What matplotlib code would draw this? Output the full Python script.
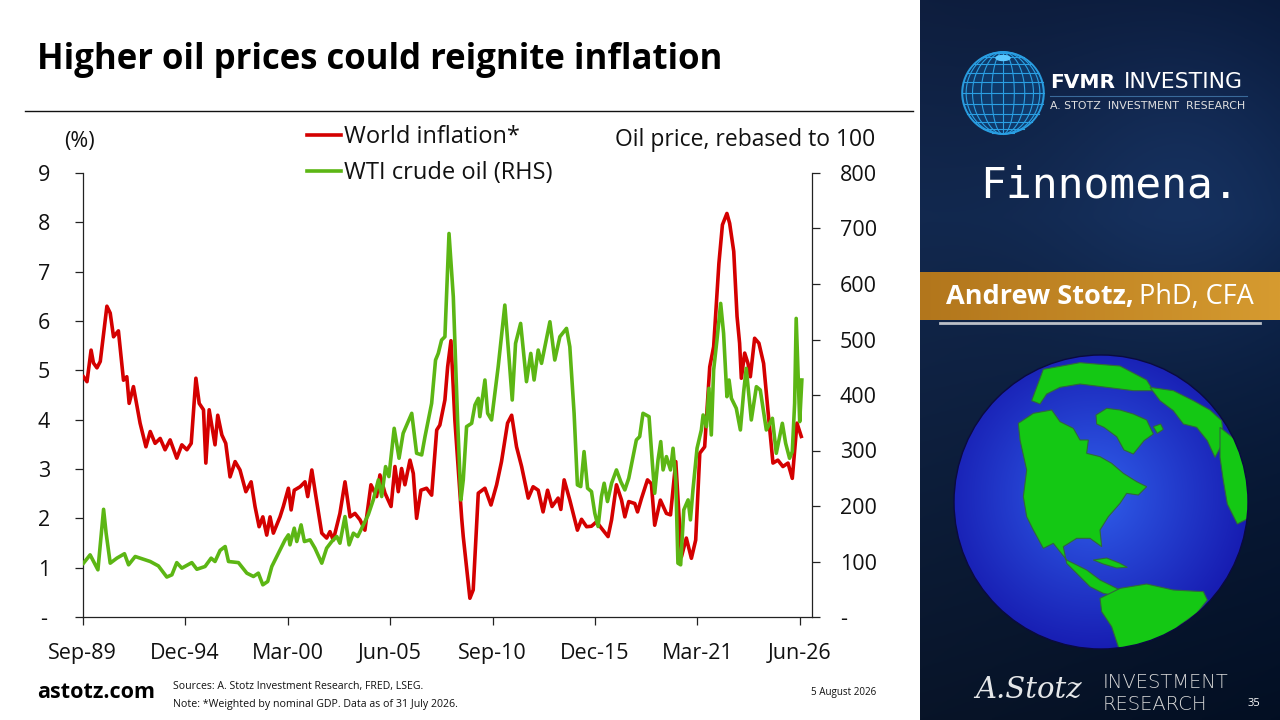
import numpy as np
import matplotlib
matplotlib.use("Agg")
import matplotlib.pyplot as plt
from matplotlib.lines import Line2D
from matplotlib.patches import Circle, Polygon, Ellipse

# ---------------- data ----------------
infl_t = [1989.71, 1989.89, 1990.10, 1990.22, 1990.40, 1990.57, 1990.91, 1991.08, 1991.25, 1991.50,
          1991.76, 1991.93, 1992.05, 1992.27, 1992.61, 1992.91, 1993.13, 1993.38, 1993.64, 1993.89,
          1994.15, 1994.49, 1994.75, 1995.01, 1995.23, 1995.47, 1995.64, 1995.86, 1995.98, 1996.15,
          1996.45, 1996.59, 1996.80, 1997.00, 1997.22, 1997.48, 1997.73, 1998.03, 1998.30, 1998.50,
          1998.71, 1998.90, 1999.10, 1999.27, 1999.44, 1999.78, 1999.95, 2000.21, 2000.35, 2000.51,
          2000.81, 2001.06, 2001.20, 2001.41, 2001.61, 2001.92, 2002.17, 2002.34, 2002.51, 2002.85,
          2003.11, 2003.37, 2003.62, 2003.88, 2004.13, 2004.44, 2004.73, 2004.90, 2005.16, 2005.47,
          2005.67, 2005.84, 2006.01, 2006.18, 2006.44, 2006.61, 2006.78, 2007.00, 2007.29, 2007.55,
          2007.81, 2007.97, 2008.23, 2008.37, 2008.54, 2008.74, 2009.09, 2009.17, 2009.51, 2009.68,
          2009.94, 2010.28, 2010.59, 2010.88, 2011.13, 2011.44, 2011.65, 2011.90, 2012.16, 2012.50,
          2012.75, 2013.01, 2013.26, 2013.49, 2013.72, 2014.03, 2014.17, 2014.34, 2014.63, 2015.02,
          2015.23, 2015.49, 2015.74, 2016.00, 2016.25, 2016.59, 2016.77, 2017.02, 2017.28, 2017.45,
          2017.65, 2017.96, 2018.10, 2018.30, 2018.61, 2018.81, 2018.98, 2019.27, 2019.58, 2019.79,
          2020.06, 2020.35, 2020.60, 2020.86, 2021.08, 2021.29, 2021.54, 2021.80, 2022.00, 2022.27,
          2022.45, 2022.68, 2022.82, 2023.03, 2023.20, 2023.33, 2023.42, 2023.59, 2023.76, 2023.88,
          2024.10, 2024.32, 2024.56, 2024.78, 2025.04, 2025.29, 2025.55, 2025.81, 2026.03, 2026.27,
          2026.49]
world_inflation = [4.87, 4.77, 5.41, 5.15, 5.05, 5.18, 6.30, 6.16, 5.68, 5.80,
                   4.80, 4.87, 4.33, 4.67, 3.93, 3.45, 3.76, 3.52, 3.62, 3.39,
                   3.59, 3.22, 3.49, 3.39, 3.52, 4.84, 4.33, 4.20, 3.12, 4.20,
                   3.49, 4.09, 3.69, 3.52, 2.84, 3.15, 2.98, 2.54, 2.74, 2.24,
                   1.83, 2.03, 1.66, 2.03, 1.70, 2.03, 2.24, 2.61, 2.17, 2.57,
                   2.64, 2.74, 2.44, 2.98, 2.47, 1.70, 1.60, 1.73, 1.56, 2.10,
                   2.74, 2.03, 2.10, 1.97, 1.76, 2.68, 2.44, 2.88, 2.51, 2.24,
                   3.05, 2.54, 3.01, 2.68, 3.18, 2.91, 2.00, 2.57, 2.61, 2.47,
                   3.79, 3.89, 4.40, 5.07, 5.60, 3.99, 2.00, 1.63, 0.38, 0.55,
                   2.51, 2.61, 2.27, 2.68, 3.15, 3.93, 4.09, 3.45, 3.05, 2.41,
                   2.64, 2.57, 2.13, 2.57, 2.24, 2.41, 2.18, 2.78, 2.37, 1.76,
                   1.98, 1.83, 1.84, 1.93, 1.80, 1.63, 1.97, 2.68, 2.37, 2.03,
                   2.34, 2.30, 2.13, 2.40, 2.78, 2.70, 1.86, 2.37, 2.10, 2.07,
                   3.15, 1.22, 1.60, 1.19, 1.56, 3.32, 3.45, 5.07, 5.48, 7.17,
                   7.95, 8.18, 7.98, 7.41, 6.09, 5.55, 4.84, 5.35, 5.14, 4.87,
                   5.65, 5.55, 5.14, 4.20, 3.12, 3.18, 3.05, 3.12, 2.81, 3.93,
                   3.66]

oil_t = [1989.71, 1990.05, 1990.45, 1990.74, 1990.87, 1991.08, 1991.42, 1991.81, 1992.02, 1992.36,
         1992.78, 1993.13, 1993.55, 1993.98, 1994.24, 1994.49, 1994.75, 1995.26, 1995.52, 1995.94,
         1996.25, 1996.45, 1996.71, 1996.97, 1997.14, 1997.65, 1998.08, 1998.42, 1998.67, 1998.90,
         1999.15, 1999.36, 1999.53, 1999.78, 2000.04, 2000.21, 2000.29, 2000.51, 2000.64, 2000.86,
         2001.03, 2001.32, 2001.57, 2001.92, 2002.17, 2002.43, 2002.69, 2002.85, 2003.11, 2003.32,
         2003.54, 2003.76, 2004.05, 2004.30, 2004.56, 2004.82, 2004.99, 2005.19, 2005.36, 2005.63,
         2005.88, 2006.09, 2006.53, 2006.78, 2007.04, 2007.21, 2007.55, 2007.75, 2007.89, 2008.06,
         2008.23, 2008.44, 2008.66, 2008.88, 2009.05, 2009.17, 2009.34, 2009.60, 2009.77, 2009.94,
         2010.02, 2010.28, 2010.42, 2010.62, 2010.79, 2010.96, 2011.30, 2011.51, 2011.68, 2011.85,
         2012.11, 2012.41, 2012.63, 2012.80, 2013.01, 2013.18, 2013.61, 2013.86, 2014.12, 2014.46,
         2014.63, 2014.85, 2015.02, 2015.19, 2015.36, 2015.54, 2015.74, 2015.91, 2016.08, 2016.25,
         2016.39, 2016.56, 2016.77, 2017.02, 2017.24, 2017.45, 2017.65, 2017.87, 2018.04, 2018.21,
         2018.38, 2018.69, 2018.86, 2018.98, 2019.15, 2019.29, 2019.41, 2019.58, 2019.79, 2019.92,
         2020.06, 2020.17, 2020.31, 2020.47, 2020.69, 2020.81, 2020.94, 2021.15, 2021.37, 2021.46,
         2021.63, 2021.76, 2021.88, 2022.00, 2022.17, 2022.36, 2022.51, 2022.68, 2022.79, 2022.91,
         2023.16, 2023.37, 2023.54, 2023.67, 2023.93, 2024.19, 2024.39, 2024.70, 2025.01, 2025.21,
         2025.52, 2025.69, 2025.89, 2026.03, 2026.15, 2026.23, 2026.41, 2026.52]
wti_rebased = [97, 112, 85, 194, 151, 97, 106, 114, 94, 109,
               104, 100, 92, 72, 76, 98, 88, 98, 86, 91,
               106, 100, 120, 127, 100, 98, 79, 73, 79, 58,
               64, 91, 103, 121, 139, 148, 130, 160, 136, 166,
               136, 139, 124, 97, 124, 136, 145, 133, 181, 130,
               151, 145, 166, 184, 211, 247, 217, 271, 253, 340,
               286, 331, 367, 295, 292, 325, 385, 463, 475, 499,
               505, 691, 577, 355, 211, 247, 343, 349, 382, 394,
               361, 427, 367, 355, 403, 451, 562, 469, 391, 493,
               529, 424, 475, 427, 481, 457, 532, 463, 505, 520,
               487, 367, 238, 235, 298, 232, 226, 187, 163, 217,
               241, 208, 241, 265, 244, 229, 250, 289, 319, 325,
               367, 361, 277, 223, 283, 316, 265, 289, 265, 304,
               247, 97, 94, 193, 211, 175, 229, 304, 337, 364,
               343, 412, 328, 445, 499, 565, 511, 397, 427, 394,
               376, 337, 406, 448, 355, 415, 409, 337, 358, 295,
               349, 313, 286, 298, 385, 538, 352, 427]

tick_dates = [1989.67, 1994.92, 2000.17, 2005.42, 2010.67, 2015.92, 2021.17, 2026.42]
tick_labels = ["Sep-89", "Dec-94", "Mar-00", "Jun-05", "Sep-10", "Dec-15", "Mar-21", "Jun-26"]
left_ticks = [0, 1, 2, 3, 4, 5, 6, 7, 8, 9]
left_labels = ["-", "1", "2", "3", "4", "5", "6", "7", "8", "9"]
right_ticks = [0, 100, 200, 300, 400, 500, 600, 700, 800]
right_labels = ["-", "100", "200", "300", "400", "500", "600", "700", "800"]

RED = "#d40000"
GREEN = "#5cb614"
FONT = "Open Sans"

W, H = 1280, 720
fig = plt.figure(figsize=(12.8, 7.2), dpi=100)
fig.patch.set_facecolor("white")

def fx(px):
    return px / W

def fy(py):
    return 1 - py / H

# ---------------- chart ----------------
ax = fig.add_axes([fx(82.7), fy(617), fx(812) - fx(82.7), fy(173) - fy(617)])
ax.set_xlim(1989.67, 2027.04)
ax.set_ylim(0, 9)
ax2 = ax.twinx()
ax2.set_ylim(0, 800)

l1, = ax.plot(infl_t, world_inflation, color=RED, lw=2.6, solid_joinstyle="round", zorder=3)
l2, = ax2.plot(oil_t, wti_rebased, color=GREEN, lw=2.6, solid_joinstyle="round", zorder=3)

for a in (ax, ax2):
    a.spines["top"].set_visible(False)
    for s in a.spines.values():
        s.set_color("#222222")
        s.set_linewidth(0.9)
ax.spines["right"].set_visible(False)
ax2.spines["left"].set_visible(False)
ax2.spines["bottom"].set_visible(False)

TS = 15.5
ax.set_xticks(tick_dates)
ax.set_xticklabels(tick_labels, fontsize=TS, family=FONT, color="#111111")
ax.set_yticks(left_ticks)
ax.set_yticklabels(left_labels, fontsize=TS, family=FONT, color="#111111")
ax2.set_yticks(right_ticks)
ax2.set_yticklabels(right_labels, fontsize=TS, family=FONT, color="#111111")
ax.tick_params(axis="x", direction="out", length=6, width=0.9, color="#222222", pad=13)
ax.tick_params(axis="y", direction="out", length=6, width=0.9, color="#222222", pad=22)
ax2.tick_params(axis="y", direction="out", length=6, width=0.9, color="#222222", pad=14)
for lab in ax.get_yticklabels():
    lab.set_horizontalalignment("center")
ax.patch.set_alpha(0)

fig.text(fx(79), fy(141), "(%)", fontsize=15.5, family=FONT, ha="center", va="center", color="#111111")
fig.text(fx(875), fy(140), "Oil price, rebased to 100", fontsize=16.5, family=FONT, ha="right", va="center", color="#111111")

leg = fig.legend([l1, l2], ["World inflation*", "WTI crude oil (RHS)"], loc="upper left",
                 bbox_to_anchor=(fx(307), fy(125)), frameon=False, handlelength=1.45,
                 handletextpad=0.1, labelspacing=0.5, borderaxespad=0, borderpad=0,
                 prop={"family": FONT, "size": 17})
for txt in leg.get_texts():
    txt.set_color("#111111")

# title and rule
fig.text(fx(37), fy(60), "Higher oil prices could reignite inflation", fontsize=25, weight="bold",
         family="Open Sans", ha="left", va="center", color="#000000")
fig.add_artist(Line2D([fx(25), fx(913)], [fy(111), fy(111)], color="#111111", lw=1.0))

# footer
fig.text(fx(37), fy(693), "astotz.com", fontsize=15.5, weight="bold", family=FONT, ha="left", va="center", color="#000000")
fig.text(fx(173), fy(686), "Sources: A. Stotz Investment Research, FRED, LSEG.", fontsize=7.6, family=FONT,
         ha="left", va="center", color="#111111")
fig.text(fx(173), fy(704), "Note: *Weighted by nominal GDP. Data as of 31 July 2026.", fontsize=7.65, family=FONT,
         ha="left", va="center", color="#111111")
fig.text(fx(876), fy(692), "5 August 2026", fontsize=7.1, family=FONT, ha="right", va="center", color="#111111")

# ---------------- right panel ----------------
pan = fig.add_axes([fx(920), 0, fx(360), 1])
pan.set_xlim(0, 360)
pan.set_ylim(720, 0)
pan.axis("off")
ny, nx = 240, 120
yy, xx = np.mgrid[0:1:ny * 1j, 0:1:nx * 1j]
top = np.array([14, 30, 62]) / 255
mid = np.array([18, 40, 78]) / 255
bot = np.array([8, 20, 40]) / 255
t = yy[..., None]
col = np.where(t < 0.3, top + (mid - top) * (t / 0.3), mid + (bot - mid) * ((t - 0.3) / 0.7))
glow = np.exp(-((xx - 0.75) ** 2 / 0.15 + (yy - 0.25) ** 2 / 0.05))[..., None]
col = np.clip(col + glow * np.array([0.03, 0.05, 0.08]) - (xx[..., None] * 0.02), 0, 1)
pan.imshow(col, extent=[0, 360, 720, 0], aspect="auto", zorder=0)

# orange banner
band = np.linspace(0, 1, 200)[None, :, None]
c1 = np.array([178, 118, 28]) / 255
c2 = np.array([214, 155, 48]) / 255
bimg = c1 + (c2 - c1) * band
bimg = np.repeat(bimg, 2, axis=0)
pan.imshow(bimg, extent=[0, 360, 320, 272], aspect="auto", zorder=1)
pan.add_line(Line2D([20, 340], [323, 323], color="#e8e8e8", lw=2.0, alpha=0.8, zorder=2))
pan.text(26, 297, "Andrew Stotz,", fontsize=19.5, weight="bold", family=FONT, color="white",
         ha="left", va="center", zorder=3)
pan.text(219, 297, "PhD, CFA", fontsize=19.5, family=FONT, color="white", ha="left", va="center", zorder=3)

# FVMR logo globe (wireframe)
gcx, gcy, gr = 83, 93, 41
LB = "#2a9fe3"
pan.add_patch(Circle((gcx, gcy), gr, facecolor="#0f3c6e", edgecolor=LB, lw=1.2, zorder=2, alpha=0.9))
for lat in np.linspace(-75, 75, 11):
    yv = gcy - gr * np.sin(np.radians(lat))
    half = gr * np.cos(np.radians(lat))
    pan.add_line(Line2D([gcx - half, gcx + half], [yv, yv], color=LB, lw=0.8, zorder=3))
for lon in np.linspace(-80, 80, 11):
    th = np.linspace(-np.pi / 2, np.pi / 2, 60)
    xs = gcx + gr * np.sin(np.radians(lon)) * np.cos(th)
    ys = gcy - gr * np.sin(th)
    pan.add_line(Line2D(xs, ys, color=LB, lw=0.8, zorder=3))
pan.add_patch(Ellipse((gcx, gcy - gr + 6), 14, 5, color="#5cc8ff", zorder=4))

pan.text(130, 82, "FVMR", fontsize=14.5, weight="bold", family="DejaVu Sans", color="white", ha="left", va="center", zorder=3)
pan.text(204, 82, "INVESTING", fontsize=15.8, family="DejaVu Sans", color="white", ha="left", va="center", zorder=3)
pan.add_line(Line2D([130, 327], [96, 96], color="#3a6a9a", lw=0.8, zorder=3))
pan.text(130, 106, "A. STOTZ  INVESTMENT  RESEARCH", fontsize=7.95, family="DejaVu Sans", color="#e0e0e0",
         ha="left", va="center", zorder=3)

pan.text(60, 185, "Finnomena.", fontsize=31, family="DejaVu Sans Mono", color="white", ha="left",
         va="center", zorder=3)

# big globe
cx, cy, r = 181, 502, 147
gy, gx = np.mgrid[-1:1:300j, -1:1:300j]
d = np.sqrt((gx + 0.05) ** 2 + (gy + 0.05) ** 2)
inner = np.array([48, 95, 235]) / 255
outer = np.array([20, 20, 170]) / 255
gimg = inner + (outer - inner) * np.clip(d / 1.2, 0, 1)[..., None]
gim = pan.imshow(gimg, extent=[cx - r, cx + r, cy + r, cy - r], aspect="auto", zorder=2)
gim.set_clip_path(Circle((cx, cy), r, transform=pan.transData))
pan.add_patch(Circle((cx, cy), r, facecolor="none", edgecolor="#0a0a40", lw=1.0, zorder=5))

def zp(pts):
    # reference-crop coordinates of the globe picture -> panel coordinates
    return [(zx / 3.0, 330 + zy / 3.0) for zx, zy in pts]

landmasses = [
    [(295, 280), (340, 250), (395, 240), (420, 275), (460, 295), (480, 330), (505, 330), (500, 370),
     (540, 380), (575, 400), (610, 430), (650, 455), (680, 470), (655, 495), (620, 490), (600, 520),
     (565, 560), (540, 600), (545, 650), (510, 625), (470, 625), (430, 650), (440, 700), (470, 730),
     (510, 770), (550, 790), (600, 800), (620, 790), (580, 770), (540, 750), (500, 720), (440, 690),
     (400, 640), (370, 655), (340, 600), (320, 560), (310, 500), (320, 420), (300, 330)],
    [(540, 805), (600, 775), (680, 762), (760, 780), (850, 785), (862, 810), (830, 850), (780, 885),
     (735, 925), (700, 965), (600, 965), (575, 890), (545, 845)],
    [(528, 255), (560, 235), (600, 240), (640, 252), (680, 270), (700, 312), (672, 332), (640, 372),
     (612, 360), (590, 320), (552, 292), (530, 282)],
    [(335, 212), (370, 118), (480, 98), (600, 108), (680, 150), (700, 182), (640, 182), (560, 172),
     (480, 162), (420, 172), (380, 192), (360, 222)],
    [(690, 172), (760, 182), (820, 212), (870, 240), (905, 272), (912, 332), (885, 382), (862, 332),
     (830, 292), (790, 282), (760, 242), (720, 212)],
    [(900, 292), (950, 332), (995, 420), (995, 560), (952, 582), (922, 522), (910, 452), (900, 382)],
    [(520, 690), (560, 684), (600, 700), (622, 712), (590, 714), (550, 702)],
    [(700, 290), (722, 282), (730, 298), (712, 310)],
]
for pts in landmasses:
    poly = Polygon(zp(pts), closed=True, facecolor="#14c814", edgecolor="#2f6a3a", lw=0.8, zorder=4)
    pan.add_patch(poly)
    poly.set_clip_path(Circle((cx, cy), r, transform=pan.transData))

# bottom brand
pan.text(55, 690, "A.Stotz", fontsize=21, style="italic", family="DejaVu Serif", color="white",
         ha="left", va="center", zorder=3, alpha=0.9)
pan.text(183, 683, "INVESTMENT", fontsize=14, weight="light", family="DejaVu Sans", color="#d8d8d8",
         ha="left", va="center", zorder=3)
pan.text(183, 705, "RESEARCH", fontsize=14, weight="light", family="DejaVu Sans", color="#d8d8d8",
         ha="left", va="center", zorder=3)
pan.text(328, 703, "35", fontsize=8, family=FONT, color="white", ha="left", va="center", zorder=3)

fig.savefig("out.png", dpi=100)
